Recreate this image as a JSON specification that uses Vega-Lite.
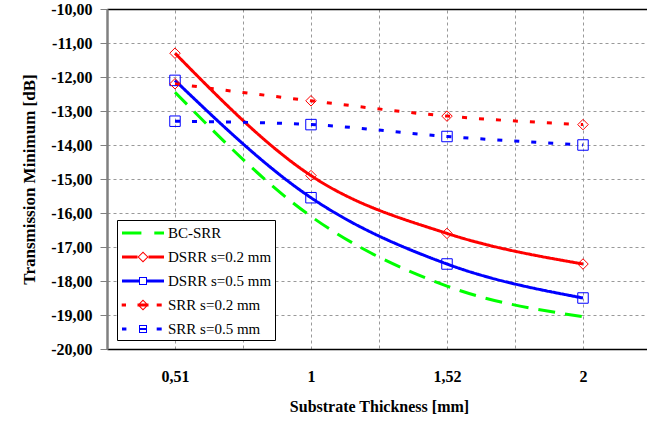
{
  "$schema": "https://vega.github.io/schema/vega-lite/v6.json",
  "width": 540,
  "height": 340,
  "autosize": {"type": "none"},
  "padding": {"left": 107, "top": 9, "right": 0, "bottom": 72},
  "background": "white",
  "config": {
    "view": {"stroke": null},
    "font": "Liberation Serif",
    "axis": {
      "labelFont": "Liberation Serif", "labelFontWeight": "bold", "labelFontSize": 16, "labelColor": "black",
      "titleFont": "Liberation Serif", "titleFontWeight": "bold", "titleColor": "black",
      "gridColor": "#999999", "gridDash": [3, 3], "gridWidth": 1, "labelOverlap": false
    },
    "axisY": {"tickCount": 10, "grid": true, "zindex": 0},
    "legend": {
      "labelFont": "Liberation Serif", "labelFontSize": 15, "labelColor": "black", "labelFontWeight": "normal"
    }
  },
  "data": {
    "values": [
      {"series": "BC-SRR", "thickness": "0,51", "value": -12.45},
      {"series": "BC-SRR", "thickness": "1", "value": -16.1},
      {"series": "BC-SRR", "thickness": "1,52", "value": -18.15},
      {"series": "BC-SRR", "thickness": "2", "value": -19.05},
      {"series": "DSRR s=0.2 mm", "thickness": "0,51", "value": -11.3},
      {"series": "DSRR s=0.2 mm", "thickness": "1", "value": -14.9},
      {"series": "DSRR s=0.2 mm", "thickness": "1,52", "value": -16.6},
      {"series": "DSRR s=0.2 mm", "thickness": "2", "value": -17.5},
      {"series": "DSRR s=0.5 mm", "thickness": "0,51", "value": -12.1},
      {"series": "DSRR s=0.5 mm", "thickness": "1", "value": -15.55},
      {"series": "DSRR s=0.5 mm", "thickness": "1,52", "value": -17.5},
      {"series": "DSRR s=0.5 mm", "thickness": "2", "value": -18.5},
      {"series": "SRR s=0.2 mm", "thickness": "0,51", "value": -12.2},
      {"series": "SRR s=0.2 mm", "thickness": "1", "value": -12.7},
      {"series": "SRR s=0.2 mm", "thickness": "1,52", "value": -13.15},
      {"series": "SRR s=0.2 mm", "thickness": "2", "value": -13.4},
      {"series": "SRR s=0.5 mm", "thickness": "0,51", "value": -13.3},
      {"series": "SRR s=0.5 mm", "thickness": "1", "value": -13.4},
      {"series": "SRR s=0.5 mm", "thickness": "1,52", "value": -13.75},
      {"series": "SRR s=0.5 mm", "thickness": "2", "value": -14.0}
    ]
  },
  "layer": [
    {
      "mark": {"type": "line", "interpolate": "monotone", "strokeWidth": 3},
      "encoding": {
        "x": {
          "field": "thickness", "type": "nominal",
          "sort": ["0,51", "1", "1,52", "2"],
          "scale": {"type": "band", "paddingInner": 0, "paddingOuter": 0, "range": [0, 544]},
          "axis": {
            "orient": "bottom", "tickBand": "extent", "labelAngle": 0,
            "grid": true, "ticks": false, "domainColor": "black", "domainWidth": 1.5,
            "labelPadding": 19,
            "title": "Substrate Thickness [mm]", "titleFontSize": 16, "titlePadding": 14
          }
        },
        "y": {
          "field": "value", "type": "quantitative",
          "scale": {"domain": [-20, -10], "nice": false, "zero": false},
          "axis": {
            "tickCount": 10, "labelOverlap": false, "zindex": 0,
            "labelExpr": "(datum.value < 0 ? '-' : '') + replace(format(abs(datum.value), '.2f'), '.', ',')",
            "grid": true, "domainColor": "#808080", "domainWidth": 2.5,
            "tickColor": "#808080", "tickSize": 7, "tickWidth": 1, "labelPadding": 8,
            "title": "Transmission Minimum [dB]", "titleFontSize": 17, "titlePadding": 12
          }
        },
        "color": {
          "field": "series", "type": "nominal",
          "scale": {
            "domain": ["BC-SRR", "DSRR s=0.2 mm", "DSRR s=0.5 mm", "SRR s=0.2 mm", "SRR s=0.5 mm"],
            "range": ["#00ff00", "#ff0000", "#0000ff", "#ff0000", "#0000ff"]
          },
          "legend": null
        },
        "strokeDash": {
          "field": "series", "type": "nominal",
          "scale": {
            "domain": ["BC-SRR", "DSRR s=0.2 mm", "DSRR s=0.5 mm", "SRR s=0.2 mm", "SRR s=0.5 mm"],
            "range": [[17, 10], [1, 0], [1, 0], [5, 12], [5, 12]]
          },
          "legend": null
        }
      }
    },
    {
      "transform": [{"filter": "datum.series !== 'BC-SRR'"}],
      "mark": {"type": "point", "filled": false, "strokeWidth": 1, "opacity": 1, "size": 110},
      "encoding": {
        "x": {
          "field": "thickness", "type": "nominal",
          "sort": ["0,51", "1", "1,52", "2"],
          "axis": {
            "orient": "top", "tickBand": "center", "labels": false, "ticks": false, "title": null,
            "grid": true, "domainColor": "black", "domainWidth": 1.5
          }
        },
        "y": {
          "field": "value", "type": "quantitative",
          "axis": {
            "tickCount": 10, "labelOverlap": false, "zindex": 0,
            "labelExpr": "(datum.value < 0 ? '-' : '') + replace(format(abs(datum.value), '.2f'), '.', ',')",
            "grid": true, "domainColor": "#808080", "domainWidth": 2.5,
            "tickColor": "#808080", "tickSize": 7, "tickWidth": 1, "labelPadding": 8,
            "title": "Transmission Minimum [dB]", "titleFontSize": 17, "titlePadding": 12
          }
        },
        "color": {
          "field": "series", "type": "nominal",
          "scale": {
            "domain": ["DSRR s=0.2 mm", "DSRR s=0.5 mm", "SRR s=0.2 mm", "SRR s=0.5 mm"],
            "range": ["#ff0000", "#0000ff", "#ff0000", "#0000ff"]
          },
          "legend": null
        },
        "shape": {
          "field": "series", "type": "nominal",
          "scale": {
            "domain": ["DSRR s=0.2 mm", "DSRR s=0.5 mm", "SRR s=0.2 mm", "SRR s=0.5 mm"],
            "range": ["diamond", "square", "diamond", "square"]
          },
          "legend": null
        }
      }
    },
    {
      "mark": {"type": "point", "filled": true},
      "encoding": {
        "y": {
          "field": "none", "type": "quantitative",
          "axis": {
            "tickCount": 10, "labelOverlap": false, "zindex": 0,
            "labelExpr": "(datum.value < 0 ? '-' : '') + replace(format(abs(datum.value), '.2f'), '.', ',')",
            "grid": true, "domainColor": "#808080", "domainWidth": 2.5,
            "tickColor": "#808080", "tickSize": 7, "tickWidth": 1, "labelPadding": 8,
            "title": "Transmission Minimum [dB]", "titleFontSize": 17, "titlePadding": 12
          }
        },
        "color": {
          "field": "series", "type": "nominal",
          "scale": {
            "domain": ["BC-SRR", "DSRR s=0.2 mm", "DSRR s=0.5 mm", "SRR s=0.2 mm", "SRR s=0.5 mm"],
            "range": ["#00ff00", "#ff0000", "#0000ff", "#ff0000", "#0000ff"]
          },
          "legend": {
            "orient": "none", "legendX": 10, "legendY": 211, "title": null,
            "strokeColor": "black", "fillColor": "white", "padding": 3,
            "symbolSize": 400, "symbolStrokeWidth": 0, "symbolOpacity": 1,
            "labelFont": "Liberation Serif", "labelFontSize": 15, "labelColor": "black",
            "labelOffset": 28, "rowPadding": 6, "labelLimit": 300
          }
        },
        "shape": {
          "field": "series", "type": "nominal",
          "scale": {
            "domain": ["BC-SRR", "DSRR s=0.2 mm", "DSRR s=0.5 mm", "SRR s=0.2 mm", "SRR s=0.5 mm"],
            "range": [
              "M-0.8,-0.15H1.14V0.15H-0.8Z M2.43,-0.15H3.4V0.15H2.43Z",
              "M-0.8,-0.15H0.75V0.15H-0.8Z M1.85,-0.15H3.4V0.15H1.85Z M1.3,-0.55L1.85,0L1.3,0.55L0.75,0Z M1.3,-0.41L0.89,0L1.3,0.41L1.71,0Z",
              "M-0.8,-0.15H0.9V0.15H-0.8Z M1.7,-0.15H3.4V0.15H1.7Z M0.9,-0.4H1.7V0.4H0.9Z M1,-0.3V0.3H1.6V-0.3Z",
              "M-0.83,-0.15H-0.4V0.15H-0.83Z M2.67,-0.15H3.17V0.15H2.67Z M0.75,-0.15H1.85V0.15H0.75Z M1.3,-0.55L1.85,0L1.3,0.55L0.75,0Z M1.3,-0.41L0.89,0L1.3,0.41L1.71,0Z",
              "M-0.8,-0.15H-0.36V0.15H-0.8Z M2.67,-0.15H3.17V0.15H2.67Z M0.9,-0.1H1.7V0.1H0.9Z M0.9,-0.4H1.7V0.4H0.9Z M1,-0.3V0.3H1.6V-0.3Z"
            ]
          },
          "legend": {
            "orient": "none", "legendX": 10, "legendY": 211, "title": null,
            "strokeColor": "black", "fillColor": "white", "padding": 3,
            "symbolSize": 400, "symbolStrokeWidth": 0, "symbolOpacity": 1,
            "labelFont": "Liberation Serif", "labelFontSize": 15, "labelColor": "black",
            "labelOffset": 28, "rowPadding": 6, "labelLimit": 300
          }
        }
      }
    }
  ],
  "resolve": {
    "scale": {"color": "independent", "shape": "independent", "strokeDash": "independent"},
    "axis": {"x": "independent"}
  }
}
